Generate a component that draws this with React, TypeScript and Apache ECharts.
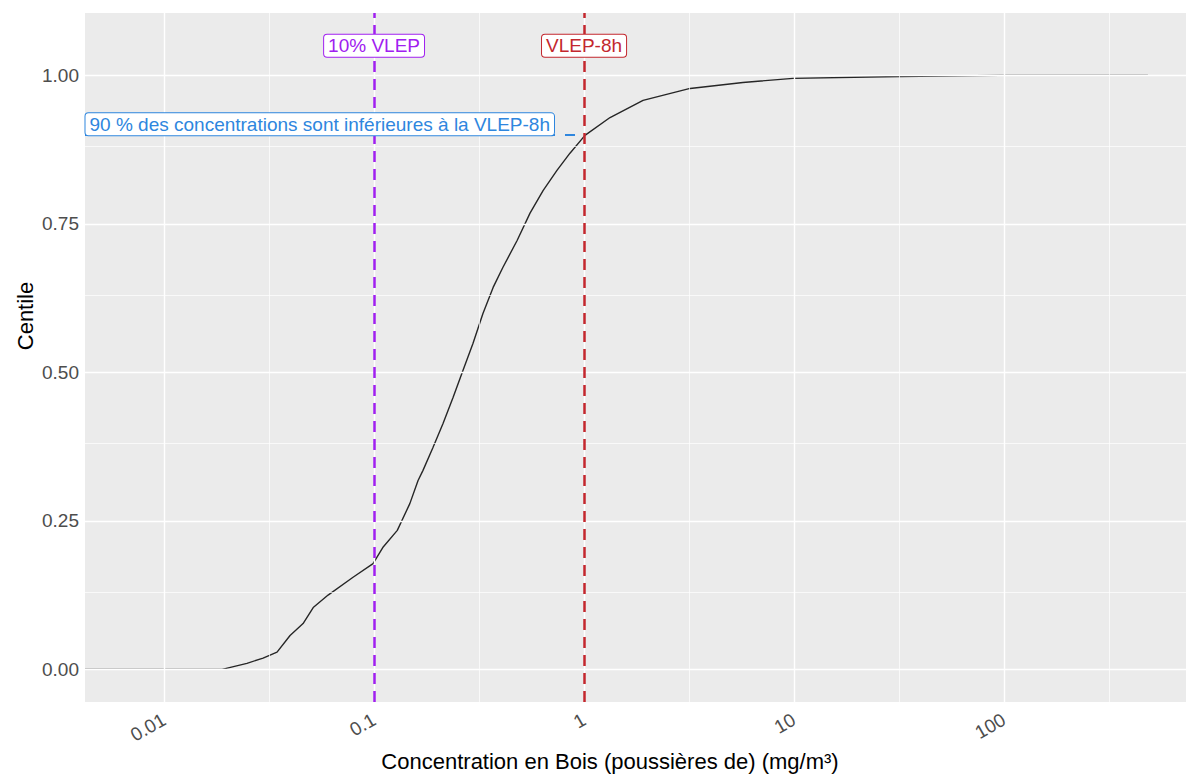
import React, { useEffect, useRef } from "react";
import * as echarts from "echarts";

// ECDF of measured concentrations (mg/m³) and the matching centile
const concentrations = [
  0.0042, 0.0189, 0.0248, 0.0296, 0.0345, 0.0398, 0.0459, 0.0513, 0.0604, 0.0794,
  0.0989, 0.110, 0.129, 0.148, 0.162, 0.171, 0.191, 0.213, 0.238, 0.265,
  0.296, 0.330, 0.369, 0.411, 0.480, 0.553, 0.638, 0.743, 0.857, 1.01,
  1.33, 1.91, 3.20, 5.71, 9.89, 32.0, 95.5, 485,
];
const centiles = [
  0, 0, 0.010, 0.019, 0.029, 0.057, 0.077, 0.104, 0.125, 0.155,
  0.178, 0.205, 0.234, 0.279, 0.318, 0.335, 0.374, 0.414, 0.458, 0.503,
  0.549, 0.599, 0.643, 0.677, 0.722, 0.768, 0.806, 0.840, 0.869, 0.899,
  0.929, 0.958, 0.978, 0.988, 0.995, 0.998, 1.0, 1.0,
];

const xTickValues = [0.01, 0.1, 1, 10, 100];
const xTickLabels = ["0.01", "0.1", "1", "10", "100"];
const xMinorExponents = [-1.5, -0.5, 0.5, 1.5, 2.5];
const yTickValues = [0, 0.25, 0.5, 0.75, 1];
const yTickLabels = ["0.00", "0.25", "0.50", "0.75", "1.00"];
const yMinorValues = [0.125, 0.375, 0.625, 0.875];
const xRange = [0.0042, 736];
const yRange = [-0.055, 1.105];

const xTitle = "Concentration en Bois (poussières de) (mg/m³)";
const yTitle = "Centile";
const vlep8h = 1;
const vlep10 = 0.1;
const centile90 = 0.9;
const labelLevel = 1.05;
const label90Level = 0.9175;

const FONT = "'Liberation Sans', Arial, sans-serif";

export default function App() {
  const ref = useRef<HTMLDivElement>(null);

  useEffect(() => {
    if (!ref.current) return;
    const chart = echarts.init(ref.current, null, { renderer: "svg" });
    const lg = (v: number) => Math.log10(v);
    const xMin = lg(xRange[0]);
    const xMax = lg(xRange[1]);
    const xTickLogs = xTickValues.map(lg);

    const gridLines: any[] = [];
    xMinorExponents.forEach((e) =>
      gridLines.push({ xAxis: e, lineStyle: { color: "#FFFFFF", width: 0.7, type: "solid" } })
    );
    yMinorValues.forEach((v) =>
      gridLines.push({ yAxis: v, lineStyle: { color: "#FFFFFF", width: 0.7, type: "solid" } })
    );
    xTickLogs.forEach((v) =>
      gridLines.push({ xAxis: v, lineStyle: { color: "#FFFFFF", width: 1.4, type: "solid" } })
    );
    yTickValues.forEach((v) =>
      gridLines.push({ yAxis: v, lineStyle: { color: "#FFFFFF", width: 1.4, type: "solid" } })
    );

    const curve = concentrations.map((c, i) => [lg(c), centiles[i]]);

    const labelBox = (color: string) => ({
      show: true,
      color,
      fontFamily: FONT,
      fontSize: 19,
      backgroundColor: "#FFFFFF",
      borderColor: color,
      borderWidth: 1,
      borderRadius: 3,
      padding: [2, 4, 1, 4],
    });

    chart.setOption({
      animation: false,
      textStyle: { fontFamily: FONT },
      grid: {
        left: 85,
        right: 0,
        top: 13,
        bottom: 72,
        show: true,
        backgroundColor: "#EBEBEB",
        borderWidth: 0,
      },
      graphic: [
        {
          type: "text",
          x: 610,
          y: 761,
          silent: true,
          style: {
            text: xTitle,
            fill: "#000",
            font: `22px ${FONT}`,
            textAlign: "center",
            textVerticalAlign: "middle",
          },
        },
        {
          type: "text",
          x: 25,
          y: 316,
          rotation: Math.PI / 2,
          silent: true,
          style: {
            text: yTitle,
            fill: "#000",
            font: `22px ${FONT}`,
            textAlign: "center",
            textVerticalAlign: "middle",
          },
        },
      ],
      xAxis: {
        type: "value",
        min: xMin,
        max: xMax,
        axisLine: { show: false },
        splitLine: { show: false },
        axisTick: {
          show: true,
          length: 4,
          lineStyle: { color: "#333333", width: 1 },
          customValues: xTickLogs,
        },
        axisLabel: {
          customValues: xTickLogs,
          rotate: 30,
          margin: 16,
          color: "#4D4D4D",
          fontSize: 19,
          fontFamily: FONT,
          formatter: (v: number) => {
            const i = xTickLogs.findIndex((t) => Math.abs(t - v) < 1e-6);
            return i >= 0 ? xTickLabels[i] : "";
          },
        },
      },
      yAxis: {
        type: "value",
        min: yRange[0],
        max: yRange[1],
        axisLine: { show: false },
        splitLine: { show: false },
        axisTick: {
          show: true,
          length: 4,
          lineStyle: { color: "#333333", width: 1 },
          customValues: yTickValues,
        },
        axisLabel: {
          customValues: yTickValues,
          margin: 6,
          color: "#4D4D4D",
          fontSize: 19,
          fontFamily: FONT,
          formatter: (v: number) => {
            const i = yTickValues.findIndex((t) => Math.abs(t - v) < 1e-6);
            return i >= 0 ? yTickLabels[i] : "";
          },
        },
      },
      series: [
        {
          name: "grid",
          type: "line",
          data: [],
          z: 1,
          silent: true,
          markLine: {
            silent: true,
            symbol: ["none", "none"],
            label: { show: false },
            animation: false,
            data: gridLines,
          },
        },
        {
          name: "ecdf",
          type: "line",
          data: curve,
          z: 3,
          showSymbol: false,
          symbol: "none",
          lineStyle: { color: "#262626", width: 1.4 },
        },
        {
          name: "annotations",
          type: "line",
          data: [],
          z: 4,
          markLine: {
            silent: true,
            symbol: ["none", "none"],
            label: { show: false },
            animation: false,
            data: [
              { xAxis: lg(vlep10), lineStyle: { color: "#A020F0", width: 2.5, type: [11, 7] } },
              { xAxis: lg(vlep8h), lineStyle: { color: "#C3272E", width: 2.5, type: [11, 7] } },
              [
                { coord: [xMin, centile90], lineStyle: { color: "#2E86DE", width: 2, type: [10, 10] } },
                { coord: [lg(vlep8h), centile90] },
              ],
            ],
          },
        },
        {
          name: "labels",
          type: "line",
          data: [],
          z: 6,
          markPoint: {
            silent: true,
            animation: false,
            symbol: "circle",
            symbolSize: 1,
            itemStyle: { color: "rgba(0,0,0,0)" },
            data: [
              {
                coord: [lg(vlep10), labelLevel],
                label: { ...labelBox("#A020F0"), position: "inside", formatter: "10% VLEP" },
              },
              {
                coord: [lg(vlep8h), labelLevel],
                label: { ...labelBox("#C3272E"), position: "inside", formatter: "VLEP-8h" },
              },
              {
                coord: [xMin, label90Level],
                label: {
                  ...labelBox("#2E86DE"),
                  position: "right",
                  distance: 0,
                  formatter: "90 % des concentrations sont inférieures à la VLEP-8h",
                },
              },
            ],
          },
        },
      ],
    });

    return () => chart.dispose();
  }, []);

  return (
    <div
      ref={ref}
      style={{ position: "fixed", left: 0, top: 0, width: 1186, height: 774, background: "#FFFFFF" }}
    />
  );
}
